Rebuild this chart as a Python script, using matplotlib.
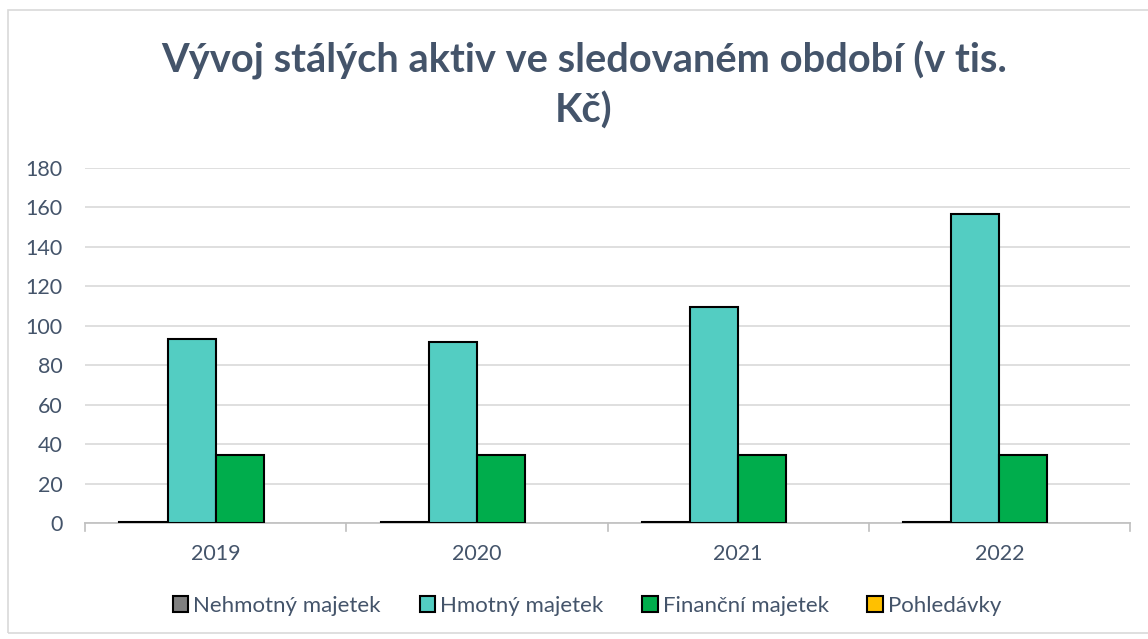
import matplotlib
matplotlib.use("Agg")
import matplotlib.pyplot as plt
import numpy as np
from matplotlib.patches import Rectangle

years = ["2019", "2020", "2021", "2022"]
series_names = ["Nehmotný majetek", "Hmotný majetek", "Finanční majetek", "Pohledávky"]
nehmotny = [0.5, 0.5, 0.5, 0.5]
hmotny = [93.5, 92.0, 109.5, 156.5]
financni = [34.5, 34.5, 34.5, 34.5]
pohledavky = [0, 0, 0, 0]
colors = ["#7F7F7F", "#53CDC2", "#00AD4C", "#FFC000"]
yticks = [0, 20, 40, 60, 80, 100, 120, 140, 160, 180]

plt.rcParams['font.family'] = ['Lato', 'DejaVu Sans']
txt = "#44546A"

fig = plt.figure(figsize=(11.48, 6.39), dpi=100)
fig.patches.append(Rectangle((8/1148, 1-633/639), 1.2, (633-10)/639, transform=fig.transFigure,
                             fill=False, edgecolor="#D9D9D9", linewidth=1.2))
ax = fig.add_axes([85/1148, 1-523/639, (1130-85)/1148, (523-168)/639])

data = [nehmotny, hmotny, financni, pohledavky]
n = len(years)
x = np.arange(n)
bw = 0.184
for i, (vals, c, name) in enumerate(zip(data, colors, series_names)):
    lws = [1.5 if v > 0 else 0 for v in vals]
    ax.bar(x + (i - 1.5) * bw, vals, width=bw, color=c, edgecolor="black", linewidth=lws,
           label=name, zorder=3)

ax.set_xlim(-0.5, n - 0.5)
ax.set_ylim(0, 180)
ax.set_yticks(yticks)
ax.set_xticks(x)
ax.set_xticklabels(years)
ax.grid(axis='y', color="#D9D9D9", linewidth=1.2, zorder=0)
for s in ['top', 'right', 'left']:
    ax.spines[s].set_visible(False)
ax.spines['bottom'].set_color("#BFBFBF")
ax.spines['bottom'].set_linewidth(1.2)
ax.tick_params(axis='y', length=0, labelsize=15.5, labelcolor=txt, pad=16)
ax.tick_params(axis='x', length=0, labelsize=15.5, labelcolor=txt, pad=15)
for b in np.arange(n + 1) - 0.5:
    ax.plot([b, b], [0, -4], color="#BFBFBF", linewidth=1.2, clip_on=False, zorder=1)

fig.text(584/1148, 1 - 72/639, "Vývoj stálých aktiv ve sledovaném období (v tis.", ha='center', va='baseline',
         fontsize=28.7, fontweight='bold', color=txt)
fig.text(584/1148, 1 - 123/639, "Kč)", ha='center', va='baseline',
         fontsize=28.7, fontweight='bold', color=txt)

handles, labels = ax.get_legend_handles_labels()
leg = fig.legend(handles, labels, loc='center', bbox_to_anchor=(587/1148, 1 - 606/639), ncol=4, frameon=False,
                 fontsize=16, labelcolor=txt, handlelength=0.7, handleheight=0.7,
                 handletextpad=0.22, columnspacing=1.75)
for h in leg.legend_handles:
    h.set_linewidth(1.5)
    h.set_edgecolor("black")

fig.savefig("out.png", dpi=100)
